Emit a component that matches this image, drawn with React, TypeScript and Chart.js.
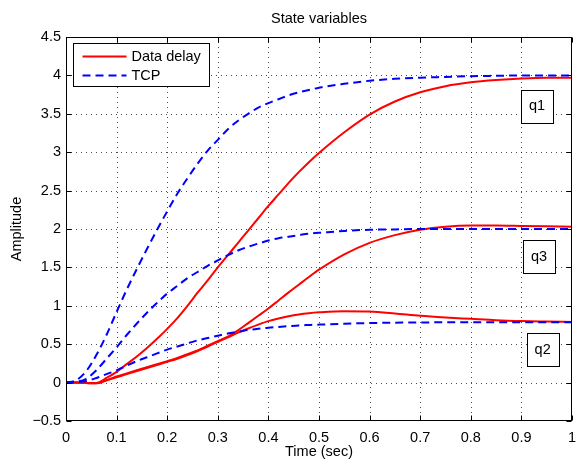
import { useEffect, useRef } from 'react';
import { Chart, registerables } from 'chart.js';
Chart.register(...registerables);

const chartTitle = 'State variables';
const xTitle = 'Time (sec)';
const yTitle = 'Amplitude';

const time = [0, 0.02, 0.04, 0.06, 0.08, 0.1, 0.12, 0.14, 0.16, 0.18, 0.2, 0.22, 0.24, 0.26, 0.28, 0.3, 0.32, 0.34, 0.36, 0.38, 0.4, 0.42, 0.44, 0.46, 0.48, 0.5, 0.55, 0.6, 0.65, 0.7, 0.75, 0.8, 0.85, 0.9, 0.95, 1.0];

const delayQ1 = [0, 0, -0.005, -0.005, 0.06, 0.14, 0.24, 0.34, 0.45, 0.57, 0.7, 0.84, 1.0, 1.17, 1.33, 1.5, 1.66, 1.82, 1.98, 2.14, 2.3, 2.45, 2.6, 2.74, 2.87, 2.99, 3.26, 3.49, 3.66, 3.78, 3.86, 3.91, 3.94, 3.96, 3.97, 3.97];
const delayQ2 = [0, 0, -0.005, -0.01, 0.03, 0.07, 0.11, 0.15, 0.19, 0.23, 0.27, 0.31, 0.36, 0.41, 0.47, 0.53, 0.59, 0.65, 0.705, 0.755, 0.8, 0.835, 0.865, 0.888, 0.904, 0.915, 0.93, 0.925, 0.9, 0.87, 0.848, 0.83, 0.812, 0.801, 0.795, 0.79];
const delayQ3 = [0, 0, -0.005, -0.01, 0.03, 0.08, 0.12, 0.16, 0.2, 0.24, 0.28, 0.32, 0.37, 0.42, 0.48, 0.54, 0.6, 0.68, 0.775, 0.87, 0.965, 1.07, 1.175, 1.275, 1.375, 1.47, 1.67, 1.82, 1.92, 1.99, 2.03, 2.045, 2.045, 2.04, 2.035, 2.03];

const tcpQ1 = [0, 0.03, 0.15, 0.36, 0.62, 0.92, 1.21, 1.48, 1.74, 1.99, 2.23, 2.46, 2.66, 2.85, 3.02, 3.16, 3.3, 3.41, 3.5, 3.58, 3.64, 3.69, 3.74, 3.78, 3.81, 3.84, 3.89, 3.93, 3.955, 3.97, 3.98, 3.99, 3.995, 4.0, 4.0, 4.0];
const tcpQ2 = [0, 0.005, 0.02, 0.06, 0.11, 0.16, 0.22, 0.28, 0.33, 0.38, 0.43, 0.47, 0.51, 0.55, 0.58, 0.61, 0.64, 0.66, 0.685, 0.7, 0.715, 0.725, 0.735, 0.745, 0.75, 0.755, 0.767, 0.775, 0.78, 0.783, 0.785, 0.785, 0.785, 0.785, 0.785, 0.785];
const tcpQ3 = [0, 0.01, 0.05, 0.16, 0.31, 0.46, 0.62, 0.77, 0.91, 1.04, 1.16, 1.26, 1.36, 1.44, 1.52, 1.59, 1.66, 1.72, 1.77, 1.81, 1.85, 1.88, 1.9, 1.92, 1.94, 1.95, 1.975, 1.99, 1.995, 2.0, 2.0, 2.0, 2.0, 2.0, 2.0, 2.0];

const seriesNames = ['Data delay', 'TCP'];

const xTickValues = [0, 0.1, 0.2, 0.3, 0.4, 0.5, 0.6, 0.7, 0.8, 0.9, 1];
const yTickValues = [-0.5, 0, 0.5, 1, 1.5, 2, 2.5, 3, 3.5, 4, 4.5];

const boxLabels = ['q1', 'q3', 'q2'];
const boxX = [0.931, 0.935, 0.942];
const boxY = [3.6, 1.64, 0.43];

const FONT = '"Liberation Sans", Arial, Helvetica, sans-serif';
const FS = 14.5;
const RED = '#ff0000';
const BLUE = '#0000ff';

function fmt(v: number): string {
  const r = Math.round(v * 10) / 10;
  const s = String(Math.abs(r));
  return r < 0 ? '\u2212' + s : s;
}

const pts = (arr: number[]) => time.map((t, i) => ({ x: t, y: arr[i] }));

const overlay = {
  id: 'overlay',
  beforeDatasetsDraw(chart: any) {
    const { ctx, chartArea: a, scales } = chart;
    const x = scales.x;
    const y = scales.y;
    ctx.save();
    ctx.strokeStyle = 'rgba(0,0,0,0.7)';
    ctx.lineWidth = 1;
    ctx.setLineDash([1, 4]);
    xTickValues.forEach((v) => {
      if (v <= 0 || v >= 1) return;
      const px = Math.round(x.getPixelForValue(v)) + 0.5;
      ctx.beginPath();
      ctx.moveTo(px, a.top);
      ctx.lineTo(px, a.bottom);
      ctx.stroke();
    });
    yTickValues.forEach((v) => {
      if (v <= -0.5 || v >= 4.5) return;
      const py = Math.round(y.getPixelForValue(v)) + 0.5;
      ctx.beginPath();
      ctx.moveTo(a.left, py);
      ctx.lineTo(a.right, py);
      ctx.stroke();
    });
    ctx.restore();
  },
  afterDraw(chart: any) {
    const { ctx, chartArea: a, scales } = chart;
    const x = scales.x;
    const y = scales.y;
    ctx.save();
    ctx.setLineDash([]);
    ctx.strokeStyle = '#000';
    ctx.lineWidth = 1;
    const L = Math.round(a.left) + 0.5;
    const R = Math.round(a.right) - 0.5;
    const T = Math.round(a.top) + 0.5;
    const B = Math.round(a.bottom) - 0.5;
    ctx.strokeRect(L, T, R - L, B - T);
    const tl = 5;
    ctx.beginPath();
    xTickValues.forEach((v) => {
      const px = Math.round(x.getPixelForValue(v)) + 0.5;
      ctx.moveTo(px, B);
      ctx.lineTo(px, B - tl);
      ctx.moveTo(px, T);
      ctx.lineTo(px, T + tl);
    });
    yTickValues.forEach((v) => {
      const py = Math.round(y.getPixelForValue(v)) + 0.5;
      ctx.moveTo(L, py);
      ctx.lineTo(L + tl, py);
      ctx.moveTo(R, py);
      ctx.lineTo(R - tl, py);
    });
    ctx.stroke();

    ctx.fillStyle = '#000';
    ctx.font = `${FS}px ${FONT}`;
    ctx.textAlign = 'center';
    ctx.textBaseline = 'middle';
    const cx = (a.left + a.right) / 2;
    ctx.fillText(chartTitle, cx, a.top - 18);
    ctx.fillText(xTitle, cx, a.bottom + 31);
    ctx.save();
    ctx.translate(17, (a.top + a.bottom) / 2);
    ctx.rotate(-Math.PI / 2);
    ctx.fillText(yTitle, 0, 0);
    ctx.restore();

    // annotation boxes
    boxLabels.forEach((lab, i) => {
      const bx = x.getPixelForValue(boxX[i]);
      const by = y.getPixelForValue(boxY[i]);
      const w = 32;
      const h = 33;
      const x0 = Math.round(bx - w / 2) + 0.5;
      const y0 = Math.round(by - h / 2) + 0.5;
      ctx.fillStyle = '#fff';
      ctx.fillRect(x0, y0, w, h);
      ctx.strokeStyle = '#000';
      ctx.strokeRect(x0, y0, w, h);
      ctx.fillStyle = '#000';
      ctx.fillText(lab, bx, by);
    });

    // legend
    const lx = Math.round(a.left) + 7.5;
    const ly = Math.round(a.top) + 6.5;
    const lw = 136;
    const lh = 43;
    ctx.fillStyle = '#fff';
    ctx.fillRect(lx, ly, lw, lh);
    ctx.strokeStyle = '#000';
    ctx.lineWidth = 1;
    ctx.strokeRect(lx, ly, lw, lh);
    const colors = [RED, BLUE];
    const dashes = [[], [8, 5]];
    seriesNames.forEach((name, i) => {
      const yy = ly + 13 + i * 19;
      ctx.strokeStyle = colors[i];
      ctx.lineWidth = 2;
      ctx.setLineDash(dashes[i]);
      ctx.beginPath();
      ctx.moveTo(lx + 9, yy);
      ctx.lineTo(lx + 53, yy);
      ctx.stroke();
      ctx.setLineDash([]);
      ctx.fillStyle = '#000';
      ctx.textAlign = 'left';
      ctx.fillText(name, lx + 58, yy);
    });
    ctx.restore();
  },
};

export default function App() {
  const ref = useRef<HTMLCanvasElement>(null);
  useEffect(() => {
    if (!ref.current) return;
    const mk = (data: number[], color: string, dashed: boolean, label: string) => ({
      label,
      data: pts(data),
      borderColor: color,
      backgroundColor: color,
      borderWidth: 2,
      borderDash: dashed ? [8, 5] : [],
      pointRadius: 0,
      fill: false,
      cubicInterpolationMode: 'monotone' as const,
      order: dashed ? 0 : 1,
    });
    const chart = new Chart(ref.current, {
      type: 'line',
      data: {
        datasets: [
          mk(delayQ1, RED, false, seriesNames[0]),
          mk(delayQ2, RED, false, seriesNames[0]),
          mk(delayQ3, RED, false, seriesNames[0]),
          mk(tcpQ1, BLUE, true, seriesNames[1]),
          mk(tcpQ2, BLUE, true, seriesNames[1]),
          mk(tcpQ3, BLUE, true, seriesNames[1]),
        ],
      },
      options: {
        animation: false,
        responsive: false,
        devicePixelRatio: 1,
        layout: { padding: { top: 37, right: 4, left: 0, bottom: 0 } },
        plugins: { legend: { display: false }, title: { display: false }, tooltip: { enabled: false } },
        scales: {
          x: {
            type: 'linear',
            min: 0,
            max: 1,
            afterBuildTicks: (s: any) => { s.ticks = xTickValues.map((v) => ({ value: v })); },
            afterFit: (s: any) => { s.height = 39; s.paddingLeft = 0; s.paddingRight = 0; },
            grid: { display: false, drawTicks: false },
            border: { display: false },
            ticks: { color: '#000', font: { family: FONT, size: FS }, padding: 8, maxRotation: 0, autoSkip: false, callback: (v: any) => fmt(Number(v)) },
          },
          y: {
            type: 'linear',
            min: -0.5,
            max: 4.5,
            afterBuildTicks: (s: any) => { s.ticks = yTickValues.map((v) => ({ value: v })); },
            afterFit: (s: any) => { s.width = 66; s.paddingTop = 0; s.paddingBottom = 0; },
            grid: { display: false, drawTicks: false },
            border: { display: false },
            ticks: { color: '#000', font: { family: FONT, size: FS }, padding: 5, autoSkip: false, callback: (v: any) => fmt(Number(v)) },
          },
        },
      },
      plugins: [overlay],
    });
    return () => chart.destroy();
  }, []);
  return (
    <div style={{ position: 'fixed', left: 0, top: 0, width: 576, height: 460, background: '#fff' }}>
      <canvas ref={ref} width={576} height={460} style={{ width: 576, height: 460, display: 'block' }} />
    </div>
  );
}
